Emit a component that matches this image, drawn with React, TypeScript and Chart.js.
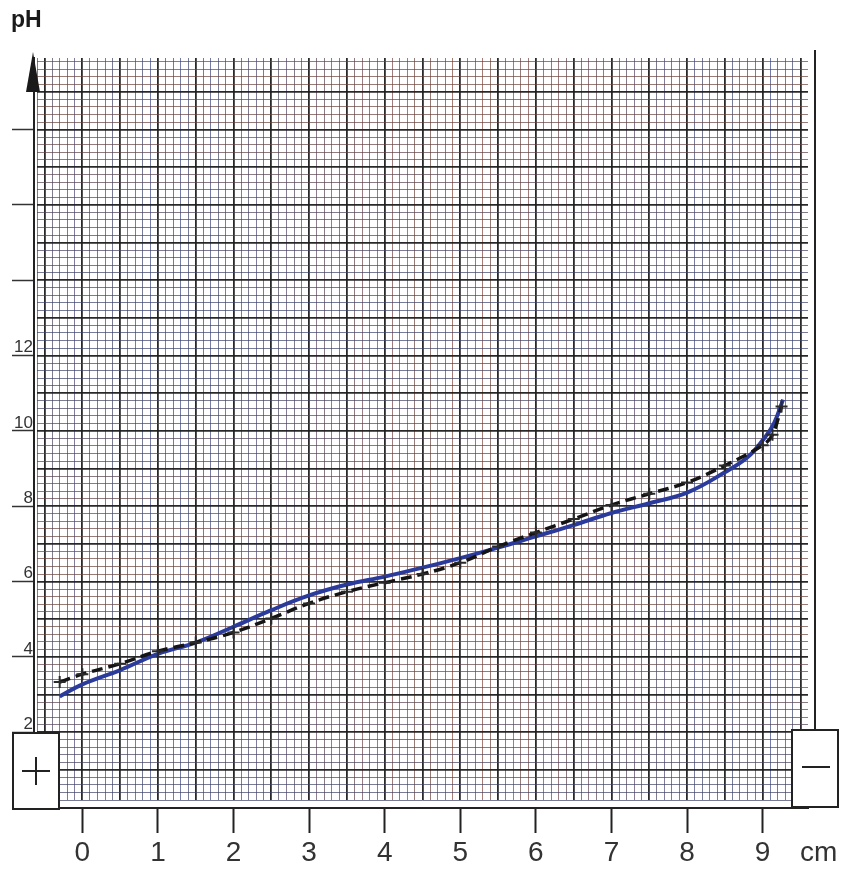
import React, { useEffect, useRef } from 'react';
import { Chart, registerables } from 'chart.js';

Chart.register(...registerables);

// Axis tick labels
const xTickValues = [0, 1, 2, 3, 4, 5, 6, 7, 8, 9];
const xTickLabels = ['0', '1', '2', '3', '4', '5', '6', '7', '8', '9'];
const yTickValues = [2, 4, 6, 8, 10, 12, 14, 16, 18];
const yTickLabels = ['2', '4', '6', '8', '10', '12', '', '', ''];

// Solid (blue) curve: distance in cm -> pH
const solidX = [-0.3, 0, 0.5, 1, 1.5, 2, 2.5, 3, 3.5, 4, 4.5, 5, 5.5, 6, 6.5, 7, 7.5, 8, 8.5, 8.8, 9, 9.15, 9.27];
const solidPH = [2.95, 3.27, 3.65, 4.08, 4.38, 4.8, 5.24, 5.63, 5.92, 6.13, 6.37, 6.62, 6.9, 7.2, 7.5, 7.82, 8.08, 8.36, 8.9, 9.3, 9.75, 10.2, 10.83];

// Dashed (black) measured curve with cross marks
const dashedX = [-0.3, 0, 0.5, 1, 1.5, 2, 2.5, 3, 3.5, 4, 4.5, 5, 5.5, 6, 6.5, 7, 7.5, 8, 8.5, 9, 9.13, 9.25];
const dashedPH = [3.33, 3.54, 3.82, 4.15, 4.38, 4.65, 5.02, 5.42, 5.73, 5.97, 6.2, 6.5, 6.93, 7.3, 7.66, 8.03, 8.33, 8.63, 9.08, 9.62, 9.9, 10.65];

const X_MIN = -0.6;
const X_MAX = 9.6;
const Y_MIN = 0.2;
const Y_MAX = 19.9;

const FONT = "'Liberation Sans', Arial, Helvetica, sans-serif";

function mix(a: number[], b: number[], t: number) {
  return a.map((v, i) => Math.round(v + (b[i] - v) * t));
}

function minorColor(v: number, phase: number, k: number) {
  const red = [170, 70, 55];
  const blue = [55, 70, 170];
  const grey = [60, 65, 60];
  const t = 0.5 + 0.5 * Math.sin(v * k + phase);
  const base = mix(red, blue, t);
  const idx = Math.round(Math.abs(v) * 10);
  const c = mix(base, grey, idx % 2 === 0 ? 0.55 : 0.35);
  return `rgba(${c[0]},${c[1]},${c[2]},0.7)`;
}

const paperPlugin = {
  id: 'paperDecor',
  afterDraw(chart: any) {
    const { ctx, chartArea } = chart;
    const yb = chart.scales.yb;
    const xb = chart.scales.xb;
    const axisX = yb.right;
    ctx.save();
    // pH label
    ctx.fillStyle = '#1a1a1a';
    ctx.font = `bold 23px ${FONT}`;
    ctx.textBaseline = 'middle';
    ctx.textAlign = 'left';
    ctx.fillText('pH', 11, 21);
    // arrow head on the y axis
    ctx.beginPath();
    ctx.moveTo(axisX - 1, chartArea.top - 6);
    ctx.lineTo(axisX + 6, chartArea.top + 34);
    ctx.lineTo(axisX - 8, chartArea.top + 34);
    ctx.closePath();
    ctx.fill();
    // right border line
    ctx.strokeStyle = '#222';
    ctx.lineWidth = 2;
    ctx.beginPath();
    ctx.moveTo(chartArea.right + 7, chartArea.top - 8);
    ctx.lineTo(chartArea.right + 7, chartArea.bottom - 70);
    ctx.stroke();
    // "+" box
    const bTop = xb.top;
    ctx.fillStyle = '#ffffff';
    ctx.lineWidth = 2;
    ctx.strokeStyle = '#222';
    ctx.fillRect(13, chartArea.bottom - 67, 46, 76);
    ctx.strokeRect(13, chartArea.bottom - 67, 46, 76);
    ctx.beginPath();
    ctx.moveTo(36, chartArea.bottom - 43);
    ctx.lineTo(36, chartArea.bottom - 15);
    ctx.moveTo(22, chartArea.bottom - 29);
    ctx.lineTo(50, chartArea.bottom - 29);
    ctx.stroke();
    // "-" box
    ctx.fillRect(chartArea.right - 16, chartArea.bottom - 70, 46, 77);
    ctx.strokeRect(chartArea.right - 16, chartArea.bottom - 70, 46, 77);
    ctx.beginPath();
    ctx.moveTo(chartArea.right - 6, chartArea.bottom - 33);
    ctx.lineTo(chartArea.right + 22, chartArea.bottom - 33);
    ctx.stroke();
    // unit label
    ctx.fillStyle = '#333';
    ctx.font = `28px ${FONT}`;
    ctx.textBaseline = 'middle';
    ctx.textAlign = 'left';
    ctx.fillText('cm', chartArea.right - 8, bTop + 45);
    ctx.restore();
  },
};

export default function App() {
  const canvasRef = useRef<HTMLCanvasElement | null>(null);

  useEffect(() => {
    document.body.style.margin = '0';
    const canvas = canvasRef.current;
    if (!canvas) return;

    const chart = new Chart(canvas, {
      type: 'scatter',
      data: {
        datasets: [
          {
            label: 'measured',
            data: dashedX.map((x, i) => ({ x, y: dashedPH[i] })),
            showLine: true,
            borderColor: '#141414',
            borderWidth: 3.5,
            borderDash: [11, 6],
            tension: 0.4,
            pointStyle: 'cross',
            pointRadius: 6,
            pointBorderWidth: 2,
            pointBorderColor: '#2a2a2a',
            pointBackgroundColor: '#2a2a2a',
            xAxisID: 'x',
            yAxisID: 'y',
          },
          {
            label: 'curve',
            data: solidX.map((x, i) => ({ x, y: solidPH[i] })),
            showLine: true,
            borderColor: '#2b3b9c',
            borderWidth: 4,
            tension: 0.4,
            pointRadius: 0,
            xAxisID: 'x',
            yAxisID: 'y',
          },
        ],
      },
      options: {
        responsive: false,
        animation: false,
        layout: { padding: { left: 0, right: 38, top: 58, bottom: 0 } },
        plugins: {
          legend: { display: false },
          tooltip: { enabled: false },
          title: { display: false },
        },
        scales: {
          x: {
            type: 'linear',
            position: 'bottom',
            weight: 0,
            min: X_MIN,
            max: X_MAX,
            afterBuildTicks: (scale: any) => {
              const t = [];
              for (let i = Math.round(X_MIN * 10); i <= Math.round(X_MAX * 10) - 1; i++) t.push({ value: i / 10 });
              scale.ticks = t;
            },
            ticks: { display: false, autoSkip: false },
            border: { display: false },
            grid: {
              drawTicks: true,
              tickLength: 8,
              tickColor: 'rgba(0,0,0,0)',
              color: (c: any) => {
                const v = c.tick ? c.tick.value : 0;
                const h = v * 2;
                if (Math.abs(h - Math.round(h)) < 1e-6) return 'rgba(30,30,30,0.95)';
                return minorColor(v, 0.7, 0.8);
              },
              lineWidth: (c: any) => {
                const v = c.tick ? c.tick.value : 0;
                const h = v * 2;
                return Math.abs(h - Math.round(h)) < 1e-6 ? 1.8 : 1;
              },
            },
          },
          xb: {
            type: 'linear',
            position: 'bottom',
            weight: 1,
            min: X_MIN,
            max: X_MAX,
            afterBuildTicks: (scale: any) => {
              scale.ticks = xTickValues.map((v) => ({ value: v }));
            },
            afterFit: (scale: any) => {
              scale.height = 65;
            },
            ticks: {
              autoSkip: false,
              maxRotation: 0,
              padding: 3,
              color: '#333',
              font: { family: FONT, size: 28 },
              callback: (_v: any, i: number) => xTickLabels[i],
            },
            border: { display: true, color: '#222', width: 2 },
            grid: {
              drawOnChartArea: false,
              drawTicks: true,
              tickLength: 25,
              tickColor: '#222',
              tickWidth: 2,
            },
          },
          y: {
            type: 'linear',
            position: 'left',
            weight: 0,
            min: Y_MIN,
            max: Y_MAX,
            afterBuildTicks: (scale: any) => {
              const t = [];
              for (let i = Math.round(Y_MIN * 5); i <= Math.floor(Y_MAX * 5); i++) t.push({ value: i / 5 });
              scale.ticks = t;
            },
            ticks: { display: false, autoSkip: false },
            border: { display: false },
            grid: {
              drawTicks: true,
              tickLength: 3,
              tickColor: 'rgba(0,0,0,0)',
              color: (c: any) => {
                const v = c.tick ? c.tick.value : 0;
                if (Math.abs(v - Math.round(v)) < 1e-6) return 'rgba(30,30,30,0.95)';
                return minorColor(v, 2.1, 0.45);
              },
              lineWidth: (c: any) => {
                const v = c.tick ? c.tick.value : 0;
                return Math.abs(v - Math.round(v)) < 1e-6 ? 1.8 : 1;
              },
            },
          },
          yb: {
            type: 'linear',
            position: 'left',
            weight: 1,
            min: Y_MIN,
            max: Y_MAX,
            afterBuildTicks: (scale: any) => {
              scale.ticks = yTickValues.map((v) => ({ value: v }));
            },
            afterFit: (scale: any) => {
              scale.width = 34;
            },
            ticks: {
              autoSkip: false,
              padding: -21,
              labelOffset: -8,
              color: '#333',
              font: { family: FONT, size: 17 },
              callback: (_v: any, i: number) => yTickLabels[i],
            },
            border: { display: true, color: '#222', width: 2 },
            grid: {
              drawOnChartArea: false,
              drawTicks: true,
              tickLength: 22,
              tickColor: '#333',
              tickWidth: 1.5,
            },
          },
        },
      },
      plugins: [paperPlugin],
    } as any);

    return () => {
      chart.destroy();
    };
  }, []);

  return (
    <div style={{ width: 846, height: 873, background: '#fff' }}>
      <canvas ref={canvasRef} width={846} height={873} style={{ display: 'block' }} />
    </div>
  );
}
